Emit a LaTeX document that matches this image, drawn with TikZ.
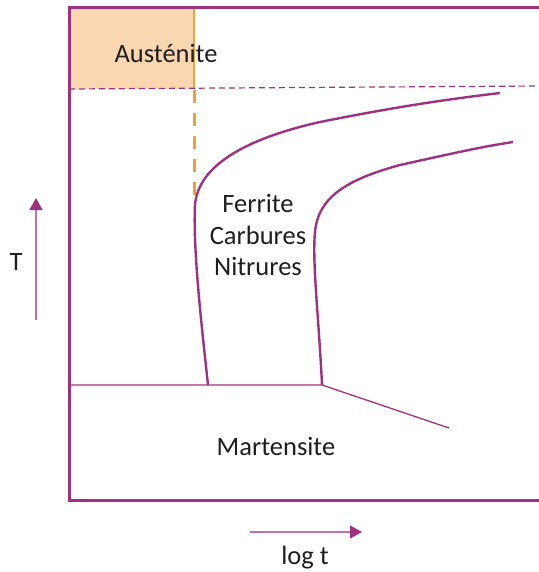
\documentclass[tikz,border=0pt]{standalone}
\usepackage{fontspec}
\setmainfont{Carlito}
\usepackage{xcolor}
\usetikzlibrary{arrows.meta, positioning}
\definecolor{plum}{RGB}{158, 50, 128}
\definecolor{lightplum}{RGB}{196, 110, 170}
\definecolor{orangeline}{RGB}{242, 160, 60}
\definecolor{orangefill}{RGB}{250, 215, 176}
\definecolor{textgray}{RGB}{30, 30, 30}

\begin{document}
\begin{tikzpicture}[
    x=1pt, y=-1pt,
    frame/.style={draw=plum, line width=3pt},
    phase/.style={draw=plum, line width=2.4pt},
    thinline/.style={draw=plum, line width=1.3pt},
    limit/.style={draw=plum, line width=1.2pt, dash pattern=on 6pt off 4pt},
    orangedash/.style={draw=orangeline, line width=3pt, dash pattern=on 13pt off 10pt},
    label/.style={font=\fontsize{26.5}{31.5}\selectfont, text=textgray, inner sep=0pt},
    axis/.style={draw=lightplum, line width=1.3pt, -{Triangle[length=12pt, width=13pt, color=plum]}}
]
    \useasboundingbox (0,0) rectangle (538,572);

    % austenite box
    \path [fill=orangefill] (69,8) rectangle (194,89);
    \draw [orangeline, line width=1.5pt] (69,8) -- (194,8) -- (194,89);

    % frame
    \path [frame] (545,8) -- (69,8) -- (69,500) -- (545,500);

    % Ms and limit lines
    \path [limit] (69,89) -- (540,86);
    \path [orangedash] (194,90) -- (194,200);

    \coordinate (f0) at (208,385);
    \coordinate (f1) at (195,205);
    \coordinate (f2) at (320,122);
    \coordinate (f3) at (500,93);
    \coordinate (c0) at (322,385);
    \coordinate (c1) at (315,232);
    \coordinate (c2) at (400,165);
    \coordinate (c3) at (513,142);

    \path [phase] (f0) .. controls (201,320) and (193,250) .. (f1)
        .. controls (198,168) and (240,140) .. (f2)
        .. controls (400,106) and (450,99) .. (f3);
    \path [phase] (c0) .. controls (319,320) and (312,262) .. (c1)
        .. controls (318,198) and (345,180) .. (c2)
        .. controls (450,154) and (480,147) .. (c3);

    \coordinate (msleft) at (69,385);
    \coordinate (msend) at (449,428);
    \path [thinline] (msleft) -- (c0) -- (msend);

    % labels
    \node [label, anchor=base] (aust) at (166,63) {Austénite};
    \node [label, align=center] (fcn) at (258,235) {Ferrite\\Carbures\\Nitrures};
    \node [label, anchor=base] (mart) at (276,455) {Martensite};

    % axes
    \coordinate (tlow) at (36,320);
    \coordinate (thigh) at (36,198);
    \coordinate (tleft) at (250,532);
    \coordinate (tright) at (362,532);
    \path [axis] (tlow) -- (thigh);
    \path [axis] (tleft) -- (tright);
    \node [label, anchor=base] (tlab) at (16,270) {T};
    \node [label, anchor=base] (loglab) at (305,564) {log t};
\end{tikzpicture}
\end{document}
